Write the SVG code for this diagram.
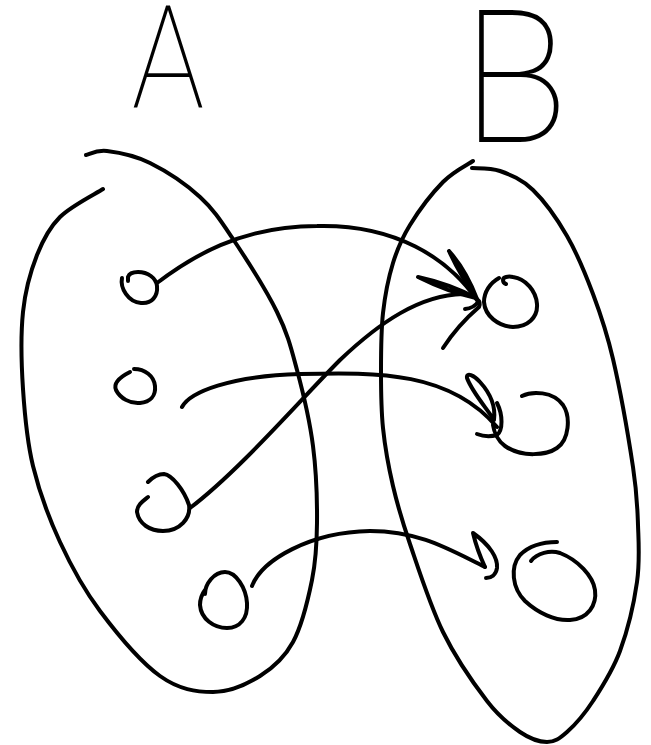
<svg xmlns="http://www.w3.org/2000/svg" width="651" height="745" viewBox="0 0 651 745">
<style>
.s{fill:none;stroke:#000;stroke-width:4;stroke-linecap:round;stroke-linejoin:round}
.t{font-family:Roboto,"Liberation Sans",sans-serif;font-weight:100;fill:#000;text-anchor:middle}
</style>
<rect width="651" height="745" fill="#fff"/>
<g id="labelA"><text class="t" font-size="143" transform="translate(168,107) scale(0.85,1)">A</text></g>
<g id="labelB"><text class="t" font-size="185" transform="translate(515,142) scale(0.95,1)">B</text></g>
<g id="setA">
<path class="s" d="M86,155 C89.5,154.3 96.3,149.7 107,151 C117.7,152.3 134.5,155.3 150,163 C165.5,170.7 186.2,184.3 200,197 C213.8,209.7 220.2,219.8 233,239 C245.8,258.2 266.3,290.2 277,312 C287.7,333.8 291,347.7 297,370 C303,392.3 309.7,420.5 313,446 C316.3,471.5 317.2,500.7 317,523 C316.8,545.3 316,560.2 312,580 C308,599.8 301.7,626 293,642 C284.3,658 273.3,667.7 260,676 C246.7,684.3 229.7,692 213,692 C196.3,692 178.8,689.5 160,676 C141.2,662.5 116.7,633.3 100,611 C83.3,588.7 71.2,566.2 60,542 C48.8,517.8 39.2,491.5 33,466 C26.8,440.5 24.7,414.7 23,389 C21.3,363.3 20.7,334.3 23,312 C25.3,289.7 30.8,270.8 37,255 C43.2,239.2 49,228 60,217 C71,206 95.8,193.7 103,189"/>
</g>
<g id="setB">
<path class="s" d="M473,161 C468,164.5 453.5,171.3 443,182 C432.5,192.7 418.3,211.5 410,225 C401.7,238.5 397.5,248.3 393,263 C388.5,277.7 385,295 383,313 C381,331 381,351.8 381,371 C381,390.2 381,408.8 383,428 C385,447.2 388.5,466.7 393,486 C397.5,505.3 401.7,519.7 410,544 C418.3,568.3 430.2,605.8 443,632 C455.8,658.2 474.2,684.3 487,701 C499.8,717.7 510,725.2 520,732 C530,738.8 539.2,742 547,742 C554.8,742 559.3,738.8 567,732 C574.7,725.2 584.2,714.5 593,701 C601.8,687.5 612.7,670.8 620,651 C627.3,631.2 634,603 637,582 C640,561 638.7,544.2 638,525 C637.3,505.8 637.2,494.7 633,467 C628.8,439.3 619.7,387.8 613,359 C606.3,330.2 600.7,314.5 593,294 C585.3,273.5 577,253.3 567,236 C557,218.7 544.2,200.8 533,190 C521.8,179.2 510.2,174.7 500,171 C489.8,167.3 476.7,168.5 472,168"/>
</g>
<g id="a1"><path class="s" d="M122,278 C120,288 128,302 141,303 C152,304 158,296 157,286 C156,278 148,272 138,272 C133,272 129,274 128,277 L128,281"/></g>
<g id="a2"><path class="s" d="M130,372 C120,377 113,383 116,390 C120,398 130,404 140,403 C150,402 156,396 155,386 C154,376 145,369 134,369"/></g>
<g id="a3"><path class="s" d="M148,482 C154,476 158,474 164,474 C172,475 184,490 189,505 C191,518 180,531 163,531 C150,531 139,524 137,512 C137,505 143,501 148,497"/></g>
<g id="a4"><path class="s" d="M205,594 C205,584 214,572 225,572 C236,572 246,588 247,603 C248,618 240,628 227,628 C214,628 201,619 200,605 C200,599 202,594 205,590"/></g>
<g id="b1"><path class="s" d="M499,278 C490,283 484,292 484,302 C485,316 498,326 513,327 C527,327 538,318 537,304 C536,291 526,279 513,277 C508,276 503,277 503,280 Q503,283 506,284"/></g>
<g id="b2"><path class="s" d="M522,396 C532,391 553,391 563,405 C571,417 569,440 557,448 C547,455 522,458 505,446 C498,441 494,432 493,425"/></g>
<g id="b3"><path class="s" d="M557,542 C545,542 530,545 520,555 C510,567 512,588 525,601 C538,613 555,621 570,620 C588,619 597,605 595,590 C593,576 578,560 560,553 C550,550 537,553 531,561"/></g>
<g id="connectors">
<path class="s" d="M157,283 C190,258 240,226 317,226 C395,224 448,258 477,300"/>
<path class="s" d="M182,407 C190,392 230,376 300,374 C380,372 450,372 497,427"/>
<path class="s" d="M190,508 C240,470 300,400 340,360 C380,322 420,295 463,294"/>
<path class="s" d="M252,586 C262,560 310,532 370,531 C420,531 450,550 485,567"/>
<path class="s" d="M449,251 Q466,270 477,299 Q460,275 449,251"/>
<path class="s" d="M418,277 Q450,284 476,298 Q448,292 418,277"/>
<path class="s" d="M443,348 Q458,325 479,307 Q481,302 477,299"/>
<path class="s" d="M465,309 Q474,308 478,302"/>
<path class="s" d="M467,378 C466,372 474,375 480,382 C490,393 496,405 494,420 C488,410 472,392 467,378"/>
<path class="s" d="M497,403 C503,415 503,430 497,435 C490,437 482,436 477,434"/>
<path class="s" d="M485,567 Q477,550 473,533 C490,545 498,558 497,568 C496,575 491,578 486,578"/>
</g>
</svg>
